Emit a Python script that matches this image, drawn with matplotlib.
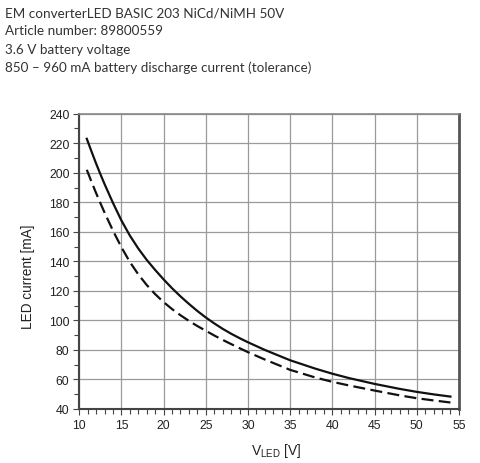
import matplotlib
matplotlib.use("Agg")
import matplotlib.pyplot as plt
from matplotlib.ticker import MultipleLocator

plt.rcParams["font.family"] = ["Liberation Sans", "DejaVu Sans"]

# Header lines
titulo = [
    "EM converterLED BASIC 203 NiCd/NiMH 50V",
    "Article number: 89800559",
    "3.6 V battery voltage",
    "850 \u2013 960 mA battery discharge current (tolerance)",
]

# Curves (upper = solid, lower = dashed)
v_sup = [10.9, 11.5, 12, 12.5, 13, 14, 15, 16, 17, 18, 19, 20, 21, 22, 23, 24,
         25, 26, 27, 28, 29, 30, 32, 35, 38, 40, 42, 45, 48, 50, 52, 54]
i_sup = [223, 213.8, 206.3, 199.2, 192.4, 179.6, 167.7, 157.5, 148.7, 141,
         134.2, 127.8, 121.8, 116.3, 111.2, 106.4, 102, 98, 94.3, 91, 88, 85.2,
         80, 73, 67.3, 63.9, 60.9, 57, 53.6, 51.6, 49.9, 48.4]

v_inf = [10.9, 11.5, 12, 12.5, 13, 14, 15, 16, 17, 18, 19, 20, 21, 22, 23, 24,
         25, 26, 27, 28, 29, 30, 32, 35, 38, 40, 42, 45, 48, 50, 52, 54]
i_inf = [202, 193.3, 186.3, 179.6, 173.1, 160.8, 149.6, 139.6, 131.2, 124,
         117.8, 112.4, 107.7, 103.5, 99.7, 96.2, 93, 89.8, 86.8, 84, 81.2, 78.5,
         73.5, 66.5, 61.3, 58.4, 55.9, 52.5, 49.2, 47.3, 45.8, 44.4]

x_ticks = list(range(10, 56, 5))
y_ticks = list(range(40, 241, 20))

fig = plt.figure(figsize=(4.8, 4.64), dpi=100)

for k, linea in enumerate(titulo):
    fig.text(5 / 480, 1 - (13 + 18.3 * k) / 464, linea, ha="left", va="center",
             fontsize=9.7, family="Lato", color="#333333")

ax = fig.add_axes([0.165, 0.1164, 0.791, 0.6364])
ax.plot(v_sup, i_sup, color="#111111", lw=1.6)
ax.plot(v_inf, i_inf, color="#111111", lw=1.6, dashes=(5.4, 2.4))

ax.set_xlim(10, 55)
ax.set_ylim(40, 240)
ax.set_xticks(x_ticks)
ax.set_yticks(y_ticks)
ax.xaxis.set_minor_locator(MultipleLocator(1))
ax.yaxis.set_minor_locator(MultipleLocator(10))
ax.grid(True, which="major", color="#9a9a9a", lw=0.9)
ax.set_axisbelow(True)

ax.tick_params(which="both", direction="out", color="#444444", width=0.8,
               labelsize=8.8, pad=3, labelcolor="#222222")
ax.tick_params(which="major", length=4)
ax.tick_params(which="minor", length=3.5)

ax.spines["left"].set_color("#444444")
ax.spines["left"].set_linewidth(1.5)
ax.spines["bottom"].set_color("#444444")
ax.spines["bottom"].set_linewidth(1.5)
ax.spines["right"].set_color("#555555")
ax.spines["right"].set_linewidth(2)
ax.spines["top"].set_color("#888888")
ax.spines["top"].set_linewidth(1.2)

ax.set_ylabel("LED current [mA]", fontsize=9.8, color="#222222")
ax.yaxis.set_label_coords(-0.117, 0.451)
ax.set_xlabel(r"V$_{\mathregular{LED}}$ [V]", fontsize=10, color="#222222")
ax.xaxis.set_label_coords(0.518, -0.108)

fig.savefig("out.png", dpi=100)
